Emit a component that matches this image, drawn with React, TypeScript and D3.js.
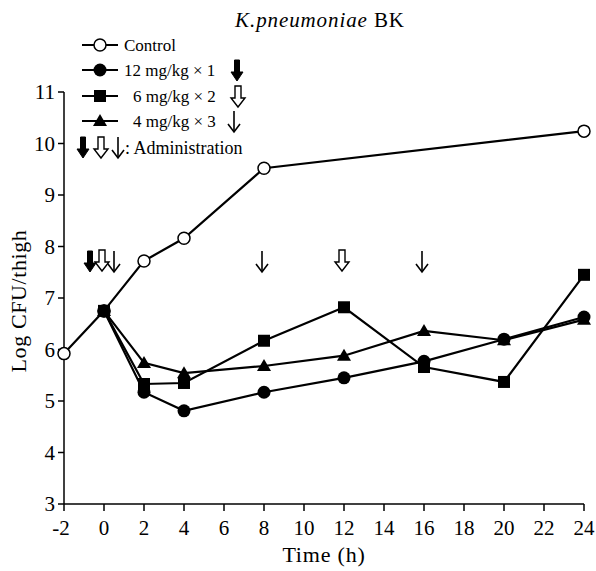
import React from "react";
import * as d3 from "d3";

const controlTimes = [-2, 0, 2, 4, 8, 24];
const controlValues = [5.92, 6.75, 7.72, 8.16, 9.52, 10.24];
const doseTimes = [0, 2, 4, 8, 12, 16, 20, 24];
const dose12Values = [6.75, 5.17, 4.81, 5.17, 5.45, 5.77, 6.2, 6.63];
const dose6Values = [6.75, 5.33, 5.35, 6.17, 6.82, 5.66, 5.37, 7.45];
const dose4Values = [6.75, 5.74, 5.54, 5.68, 5.88, 6.36, 6.18, 6.58];
const xTicks = [-2, 0, 2, 4, 6, 8, 10, 12, 14, 16, 18, 20, 22, 24];
const yTicks = [3, 4, 5, 6, 7, 8, 9, 10, 11];
const solidDoseTimes = [0];
const openDoseTimes = [0, 12];
const thinDoseTimes = [0, 8, 16];
const legendLabels = ["Control", "12 mg/kg × 1", "6 mg/kg × 2", "4 mg/kg × 3"];

const FONT = "'Liberation Serif', 'DejaVu Serif', serif";
const txt = { fontFamily: FONT } as React.CSSProperties;

function SolidArrow({ x, y }: { x: number; y: number }) {
  return (
    <path
      d={`M${x - 2.5},${y} L${x + 2.5},${y} L${x + 2.5},${y + 12} L${x + 6},${y + 12} L${x},${y + 21} L${x - 6},${y + 12} L${x - 2.5},${y + 12} Z`}
      fill="#000"
      stroke="#000"
      strokeWidth={1}
    />
  );
}
function OpenArrow({ x, y }: { x: number; y: number }) {
  return (
    <path
      d={`M${x - 3},${y} L${x + 3},${y} L${x + 3},${y + 12} L${x + 7},${y + 12} L${x},${y + 21} L${x - 7},${y + 12} L${x - 3},${y + 12} Z`}
      fill="#fff"
      stroke="#000"
      strokeWidth={1.4}
    />
  );
}
function ThinArrow({ x, y }: { x: number; y: number }) {
  return (
    <g stroke="#000" strokeWidth={1.6} fill="none">
      <line x1={x} y1={y} x2={x} y2={y + 21} />
      <polyline points={`${x - 6},${y + 13} ${x},${y + 21} ${x + 6},${y + 13}`} />
    </g>
  );
}

function Marker({ type, x, y }: { type: string; x: number; y: number }) {
  if (type === "openCircle")
    return <circle cx={x} cy={y} r={6} fill="#fff" stroke="#000" strokeWidth={1.5} />;
  if (type === "circle") return <circle cx={x} cy={y} r={6.5} fill="#000" />;
  if (type === "square")
    return <rect x={x - 6} y={y - 6} width={12} height={12} fill="#000" />;
  return <path d={`M${x},${y - 7} L${x + 7},${y + 5} L${x - 7},${y + 5} Z`} fill="#000" />;
}

export default function App() {
  const x = d3.scaleLinear().domain([-2, 24]).range([64, 584]);
  const y = d3.scaleLinear().domain([3, 11]).range([504, 92]);
  const line = d3
    .line<[number, number]>()
    .x((d) => x(d[0]))
    .y((d) => y(d[1]));

  const series = [
    { t: controlTimes, v: controlValues, m: "openCircle" },
    { t: doseTimes, v: dose4Values, m: "triangle" },
    { t: doseTimes, v: dose6Values, m: "square" },
    { t: doseTimes, v: dose12Values, m: "circle" },
  ];

  const arrowTop = 251;
  const offset = (t: number, d: number) => (t === 0 ? d : 0);

  const legendRows = [45, 70, 96, 121];
  const legendMarkers = ["openCircle", "circle", "square", "triangle"];
  const legendTextX = [124, 124, 133, 133];

  return (
    <svg width={596} height={571} style={{ position: "absolute", left: 0, top: 0, fontFamily: FONT }}>
      <rect width={596} height={571} fill="#fff" />
      <text x={320} y={27} textAnchor="middle" fontSize={21} letterSpacing={0.9} style={txt}>
        <tspan fontStyle="italic">K.pneumoniae</tspan> BK
      </text>

      <g stroke="#000" strokeWidth={1.5} fill="none">
        <line x1={x(-2)} y1={y(11)} x2={x(-2)} y2={y(3)} />
        <line x1={x(-2)} y1={y(3)} x2={x(24)} y2={y(3)} />
        {yTicks.map((t) => (
          <line key={t} x1={x(-2) - 6} x2={x(-2)} y1={y(t)} y2={y(t)} />
        ))}
        {xTicks.map((t) => (
          <line key={t} x1={x(t)} x2={x(t)} y1={y(3)} y2={y(3) + 7} />
        ))}
      </g>
      {yTicks.map((t) => (
        <text key={t} x={x(-2) - 9} y={y(t) + 7} textAnchor="end" fontSize={21} style={txt}>
          {t}
        </text>
      ))}
      {xTicks.map((t) => (
        <text key={t} x={x(t) + (t < 0 ? -3 : 0)} y={y(3) + 31} textAnchor="middle" fontSize={21} style={txt}>
          {t}
        </text>
      ))}
      <text x={324} y={562} textAnchor="middle" fontSize={22} letterSpacing={0.8} style={txt}>
        Time (h)
      </text>
      <text transform="translate(26,301) rotate(-90)" textAnchor="middle" fontSize={22} letterSpacing={0.6} style={txt}>
        Log CFU/thigh
      </text>

      {series.map((s, i) => {
        const pts = s.t.map((t, j) => [t, s.v[j]] as [number, number]);
        return <path key={i} d={line(pts) || ""} fill="none" stroke="#000" strokeWidth={2.2} />;
      })}
      {series.map((s, i) => (
        <g key={"m" + i}>
          {s.t.map((t, j) => (
            <Marker key={j} type={s.m} x={x(t)} y={y(s.v[j])} />
          ))}
        </g>
      ))}

      {solidDoseTimes.map((t) => (
        <SolidArrow key={"s" + t} x={x(t) - 2 + offset(t, -12)} y={arrowTop} />
      ))}
      {openDoseTimes.map((t) => (
        <OpenArrow key={"o" + t} x={x(t) - 2 + offset(t, 0)} y={arrowTop - 1} />
      ))}
      {thinDoseTimes.map((t) => (
        <ThinArrow key={"t" + t} x={x(t) - 2 + offset(t, 12)} y={arrowTop} />
      ))}

      {legendLabels.map((lab, i) => (
        <g key={lab}>
          <line x1={82} x2={118} y1={legendRows[i]} y2={legendRows[i]} stroke="#000" strokeWidth={2} />
          <Marker type={legendMarkers[i]} x={100} y={legendRows[i]} />
          <text x={legendTextX[i]} y={legendRows[i] + 6} fontSize={17} style={txt}>
            {lab}
          </text>
        </g>
      ))}
      <SolidArrow x={237} y={60} />
      <OpenArrow x={238} y={86} />
      <ThinArrow x={234} y={111} />
      <SolidArrow x={83} y={137} />
      <OpenArrow x={101} y={137} />
      <ThinArrow x={118} y={137} />
      <text x={125} y={154} fontSize={18} style={txt}>
        : Administration
      </text>
    </svg>
  );
}
